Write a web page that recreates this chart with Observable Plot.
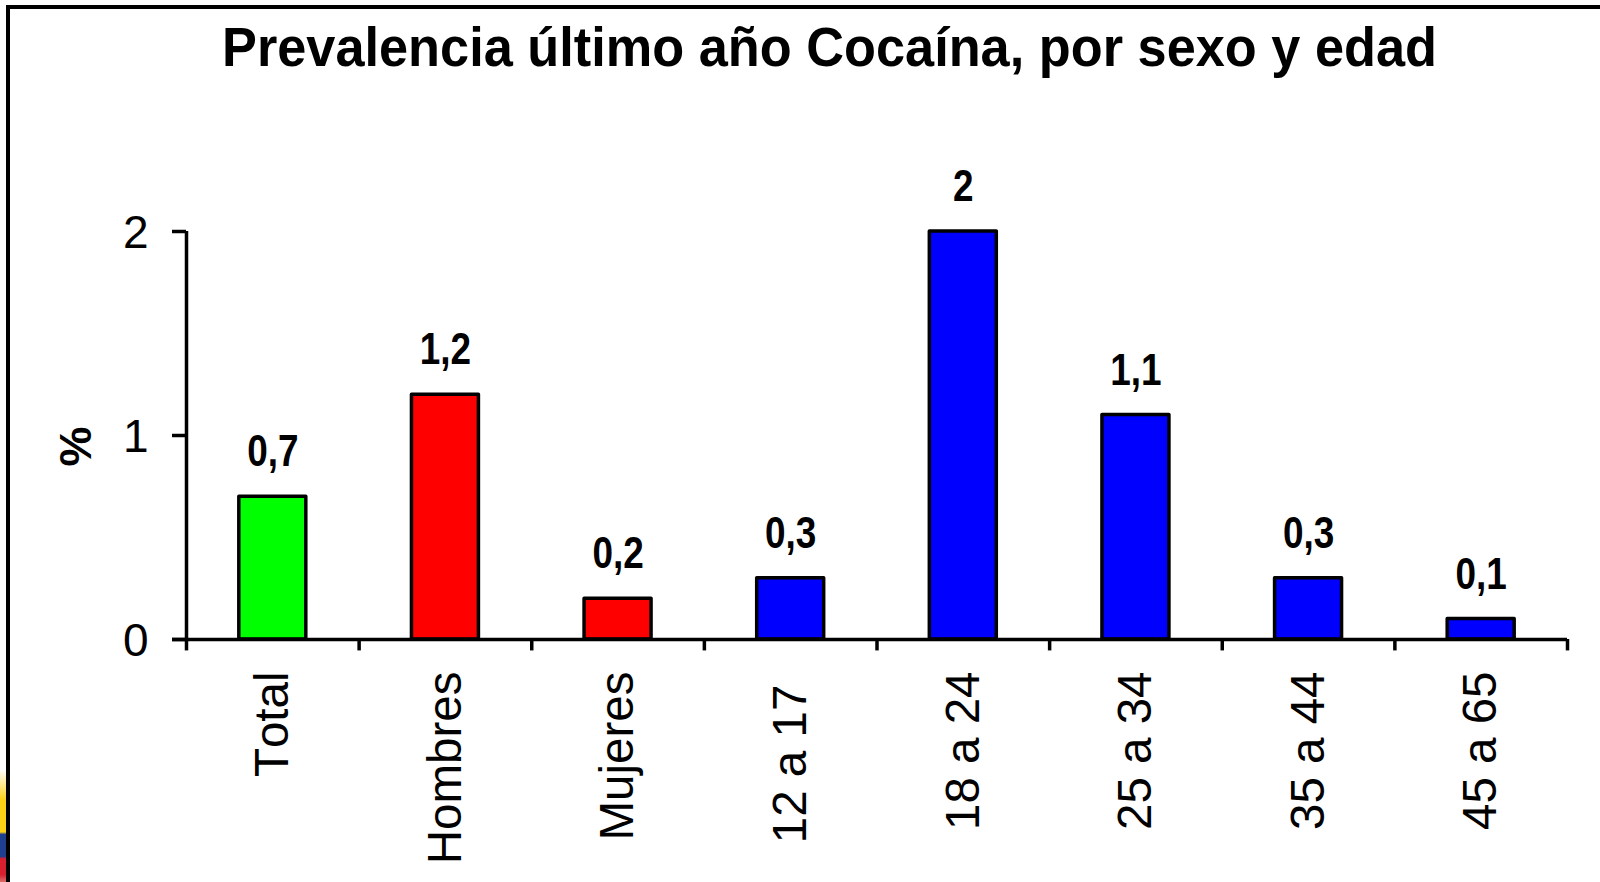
<!DOCTYPE html>
<html><head><meta charset="utf-8">
<script src="https://cdn.jsdelivr.net/npm/d3@7"></script>
<script src="https://cdn.jsdelivr.net/npm/@observablehq/plot@0.6"></script>
<style>
html,body{margin:0;padding:0;background:#fff;overflow:hidden}
#wrap{position:relative;width:1600px;height:882px;overflow:hidden}
#frame{position:absolute;left:6px;top:5px;width:1700px;height:1000px;border:4px solid #000;box-sizing:border-box}
#flag{position:absolute;left:0;top:760px;width:6px;height:122px;background:linear-gradient(#fff 8%,#fcd116 33%,#fcd116 59%,#1f3f8f 61%,#1f3f8f 79%,#d9202f 81%,#d9202f 94%,#d9706a 100%)}
#title{position:absolute;left:222px;top:19px;margin:0;font:bold 56px/56px "Liberation Sans",Arial,sans-serif;color:#000;white-space:nowrap;transform-origin:0 0}
#chart{position:absolute;left:0;top:0}
svg{overflow:visible}
svg text{font-kerning:none}
</style></head><body>
<div id="wrap"><div id="flag"></div><div id="frame"></div><div id="chart"></div><h1 id="title"></h1></div>
<script>
const titleText = "Prevalencia último año Cocaína, por sexo y edad";
const categories = ["Total","Hombres","Mujeres","12 a 17","18 a 24","25 a 34","35 a 44","45 a 65"];
const tickLabels = ["Total","Hombres","Mujeres","12 a 17\u00a0","18 a 24","25 a 34","35 a 44","45 a 65"];
const values = [0.7,1.2,0.2,0.3,2,1.1,0.3,0.1];
const colors = ["#00ff00","#ff0000","#ff0000","#0000ff","#0000ff","#0000ff","#0000ff","#0000ff"];
const yTicks = [0,1,2];
const yLabel = "%";
const rows = categories.map((c,i)=>({c,v:values[i],col:colors[i]}));
const fmt = v => String(v).replace(".",",");
const ff = '"Liberation Sans",Arial,sans-serif';
const W = 1600, ML = 186, MR = 33;
const step = (W-ML-MR)/categories.length;
const black = {stroke:"#000",strokeWidth:3.5};
const plot = Plot.plot({
  width:W,height:882,
  marginLeft:ML,marginRight:MR,marginTop:231,marginBottom:243,
  style:{background:"transparent",fontFamily:ff,color:"#000",overflow:"visible"},
  x:{domain:categories,paddingInner:0.612,paddingOuter:0.306,align:0.5,round:false,label:null},
  y:{domain:[0,2],label:null},
  marks:[
    Plot.barY(rows,{x:"c",y:"v",fill:d=>d.col,strokeLinejoin:"round",...black}),
    Plot.text(rows,{x:"c",y:"v",text:d=>fmt(d.v),dy:-45,fontSize:45,fontWeight:"bold",fill:"#000"}),
    Plot.ruleY(yTicks,{insetLeft:-14,insetRight:W-ML-MR,...black}),
    Plot.ruleY([0],{insetLeft:-14,...black}),
    Plot.ruleX(categories.slice(0,1),{x:d=>d,y1:0,y2:2,dx:-step/2,...black}),
    Plot.ruleX(categories,{x:d=>d,y1:0,y2:-0.056,dx:-step/2,...black}),
    Plot.ruleX(categories.slice(-1),{x:d=>d,y1:0,y2:-0.056,dx:step/2,...black}),
    Plot.axisY({ticks:yTicks,tickFormat:d=>String(d),tickSize:14,tickPadding:24,fontSize:46,label:null,stroke:"none",dy:1.5}),
    Plot.axisX({tickSize:0,tickPadding:32,tickRotate:-90,fontSize:47.5,label:null,tickFormat:d=>tickLabels[categories.indexOf(d)]}),
    Plot.text([yLabel],{text:d=>d,frameAnchor:"left",y:()=>0.848,dx:-110,rotate:-90,fontSize:45,fontWeight:"bold",fill:"#000"})
  ]
});
document.getElementById("chart").appendChild(plot);
// The reference's value labels are condensed: squeeze the real text horizontally.
plot.querySelector('g[aria-label="text"]').querySelectorAll("text").forEach(el=>{
  el.setAttribute("textLength",el.getComputedTextLength()*0.82);
  el.setAttribute("lengthAdjust","spacingAndGlyphs");
});
const t = document.getElementById("title");
t.textContent = titleText;
t.style.transform = `scaleX(${1215/t.getBoundingClientRect().width})`;
</script>
</body></html>
